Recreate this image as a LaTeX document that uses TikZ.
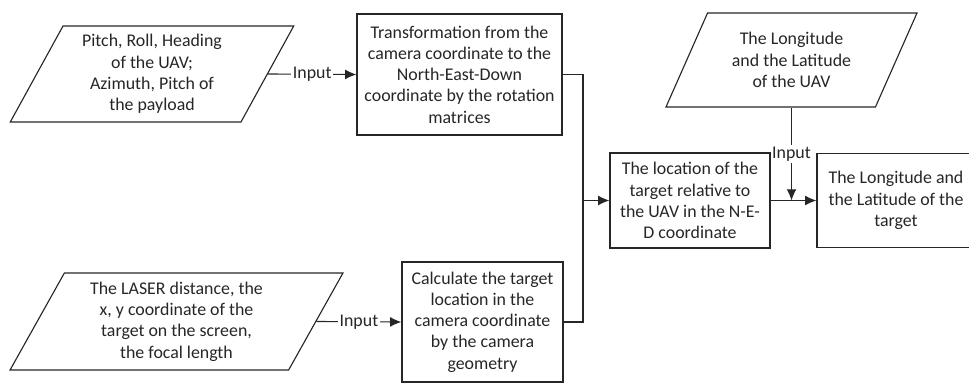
\documentclass[tikz,border=0pt]{standalone}
\usepackage{fontspec}
\setmainfont{Carlito}
\usetikzlibrary{shapes.geometric,arrows.meta}
\begin{document}
\begin{tikzpicture}[x=0.025cm, y=-0.025cm, black!85,
    font=\fontsize{12.7}{15.1}\selectfont,
    box/.style={draw, line width=0.8pt, align=center, inner sep=2pt},
    io/.style={draw, line width=0.8pt, align=center, trapezium, trapezium stretches=true,
      trapezium left angle=63, trapezium right angle=117, inner sep=2pt},
    link/.style={line width=0.8pt, -{Latex[length=8pt,width=7pt]}},
    lbl/.style={fill=white, inner sep=1pt}]
  \useasboundingbox (0,0) rectangle (969,383);
  \node[io, minimum width=7.1cm, minimum height=2.4cm] (att) at (152,74) {Pitch, Roll, Heading\\of the UAV;\\Azimuth, Pitch of\\the payload};
  \node[box, minimum width=5.125cm, minimum height=3.025cm] (trans) at (459.5,74.5) {Transformation from the\\camera coordinate to the\\North-East-Down\\coordinate by the rotation\\matrices};
  \node[io, minimum width=8.325cm, minimum height=2.425cm] (laser) at (176.5,321.5) {The LASER distance, the\\x, y coordinate of the\\target on the screen,\\the focal length};
  \node[box, minimum width=4.025cm, minimum height=3cm] (calc) at (482.5,322) {Calculate the target\\location in the\\camera coordinate\\by the camera\\geometry};
  \node[io, minimum width=6.275cm, minimum height=2.35cm] (uavpos) at (791.5,60) {The Longitude\\and the Latitude\\of the UAV};
  \node[box, minimum width=4cm, minimum height=2.375cm] (loc) at (690,200.5) {The location of the\\target relative to\\the UAV in the N-E-\\D coordinate};
  \node[box, minimum width=3.95cm, minimum height=2.35cm] (target) at (896,200.5) {The Longitude and\\the Latitude of the\\target};
  \coordinate (merge) at (583,200.5);
  \draw[link] (att.east) -- node[lbl] {Input} (trans.west);
  \draw[link] (laser.east) -- node[lbl] {Input} (calc.west);
  \draw[line width=0.8pt] (calc.east) -| (merge);
  \draw[link] (trans.east) -| (merge) -- (loc.west);
  \draw[link] (loc.east) -- (target.west);
  \draw[link] (uavpos.south) -- node[lbl] {Input} (uavpos.south |- loc.east);
\end{tikzpicture}
\end{document}
